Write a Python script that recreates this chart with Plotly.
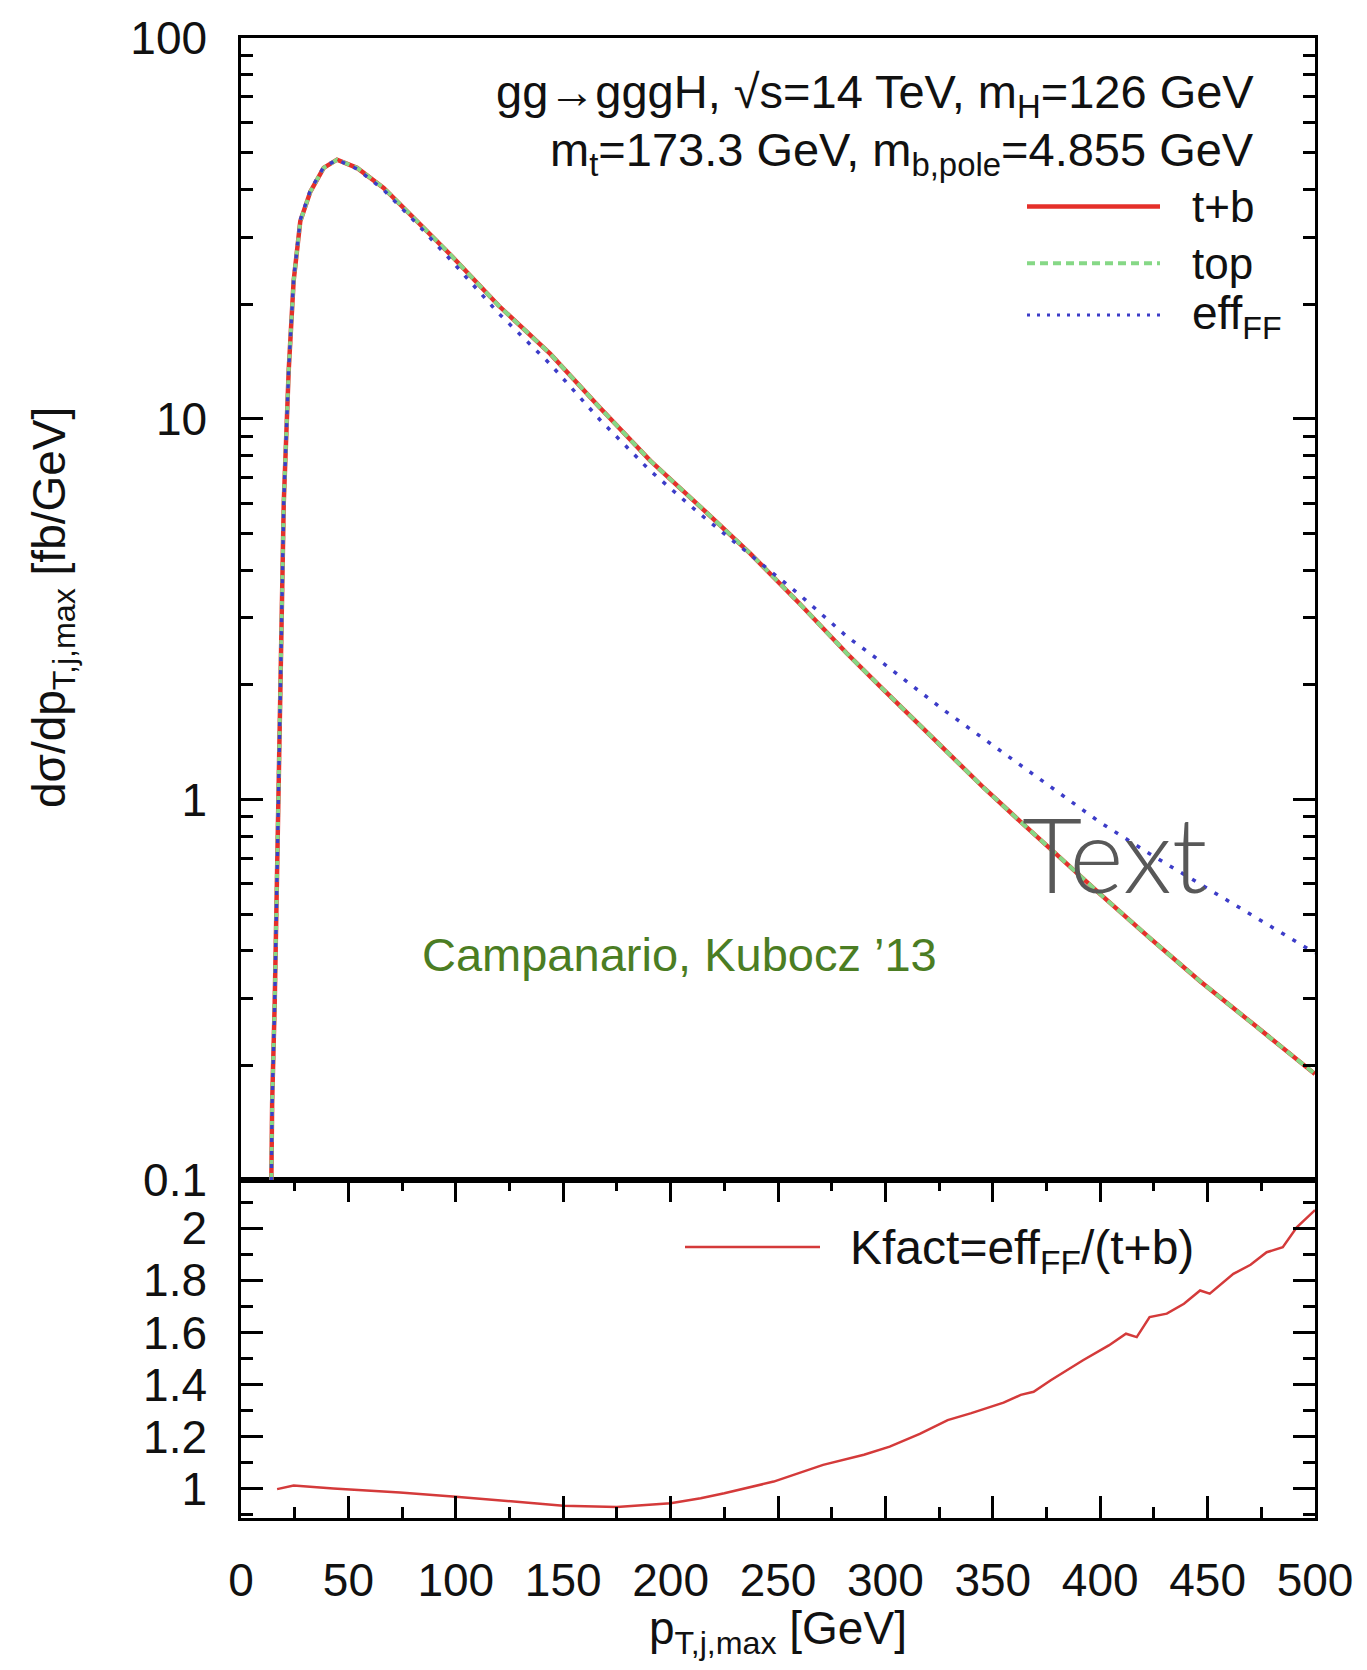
import plotly.graph_objects as go

# ---- data ----
pt_top = [14.0, 14.5, 15.7, 16.8, 18.3, 19.1, 19.9, 22.2, 24.5, 27.6,
          32.3, 38.5, 44.7, 54, 66.4, 82, 97.4, 120, 144, 167,
          190.5, 214, 237, 260, 282, 298, 327, 346, 363, 380,
          400, 423, 446.5, 472, 500]
tb = [0.085, 0.16, 0.293, 0.656, 1.47, 3.27, 6.0, 13.4, 23.0, 33.0,
      39.5, 45.6, 47.9, 45.6, 40.4, 33.0, 27.0, 19.8, 14.8, 10.7,
      7.76, 5.86, 4.43, 3.27, 2.42, 1.97, 1.36, 1.07, 0.873, 0.713,
      0.564, 0.433, 0.333, 0.255, 0.19]
top = [0.085, 0.16, 0.293, 0.656, 1.47, 3.27, 6.0, 13.4, 23.0, 33.0,
       39.5, 45.6, 47.9, 45.6, 40.4, 33.0, 27.0, 19.8, 14.8, 10.7,
       7.76, 5.86, 4.43, 3.27, 2.42, 1.97, 1.36, 1.07, 0.873, 0.713,
       0.564, 0.433, 0.333, 0.255, 0.19]
eff_ff = [0.085, 0.16, 0.293, 0.656, 1.47, 3.27, 6.0, 13.5, 23.2, 33.3,
          39.8, 45.8, 47.9, 45.3, 39.9, 32.5, 26.2, 18.9, 13.9, 9.95,
          7.3, 5.6, 4.4, 3.45, 2.68, 2.30, 1.72, 1.44, 1.23, 1.05,
          0.87, 0.72, 0.60, 0.49, 0.395]

pt_k = [16.8, 24.5, 43, 74, 100, 128, 150, 175, 200, 214,
        225, 248, 271, 290, 302, 316, 329, 340, 349, 355,
        363, 369, 377, 392, 404, 412, 417, 423, 431, 439,
        446.5, 451, 462, 470, 477.5, 485, 491.5, 497, 500]
kfact = [0.998, 1.012, 1.0, 0.985, 0.969, 0.95, 0.934, 0.929, 0.944, 0.963,
         0.982, 1.027, 1.091, 1.13, 1.161, 1.21, 1.263, 1.29, 1.314, 1.33,
         1.36, 1.372, 1.416, 1.493, 1.55, 1.595, 1.582, 1.659, 1.672, 1.71,
         1.761, 1.749, 1.825, 1.86, 1.908, 1.927, 2.004, 2.049, 2.07]

x_ticks = [0, 50, 100, 150, 200, 250, 300, 350, 400, 450, 500]

# ---- style ----
FONT = "Liberation Sans, Arial, Helvetica, sans-serif"
RED = "#e5302a"
GREEN = "#86d886"
BLUE = "#3c3cc8"
W, H = 1367, 1670
L, R, T, B = 241, 52, 33, 152
PW, PH = W - L - R, H - T - B
split = (1518 - 1179) / PH


def px(x):
    return (x - L) / PW


def py(y):
    return (H - B - y) / PH


fig = go.Figure()
fig.add_trace(go.Scatter(x=pt_top, y=tb, mode="lines", xaxis="x2", yaxis="y2",
                         line=dict(color=RED, width=4.5), name="t+b", showlegend=False))
fig.add_trace(go.Scatter(x=pt_top, y=top, mode="lines", xaxis="x2", yaxis="y2",
                         line=dict(color=GREEN, width=4, dash="8px,5px"), name="top", showlegend=False))
fig.add_trace(go.Scatter(x=pt_top, y=eff_ff, mode="lines", xaxis="x2", yaxis="y2",
                         line=dict(color=BLUE, width=3.5, dash="4px,9px"), name="effFF", showlegend=False))
fig.add_trace(go.Scatter(x=pt_k, y=kfact, mode="lines", xaxis="x", yaxis="y",
                         line=dict(color="#d43a3a", width=2.5), name="Kfact", showlegend=False))

axis_common = dict(showline=True, linecolor="black", linewidth=2.5, mirror="allticks",
                   ticks="inside", tickcolor="black", tickwidth=2.5, ticklen=22,
                   showgrid=False, zeroline=False,
                   tickfont=dict(family=FONT, size=46, color="#111"))

fig.update_layout(
    width=W, height=H, margin=dict(l=L, r=R, t=T, b=B),
    paper_bgcolor="white", plot_bgcolor="white",
    xaxis=dict(axis_common, domain=[0, 1], anchor="y", range=[0, 500],
               tickvals=x_ticks, ticklabelstandoff=20,
               minor=dict(ticks="inside", ticklen=11, tickwidth=2.5, tickcolor="black", dtick=25, tick0=0)),
    xaxis2=dict(showline=True, linecolor="black", linewidth=2.5, mirror=True, ticks="",
                showticklabels=False, showgrid=False, zeroline=False,
                domain=[0, 1], anchor="y2", range=[0, 500], matches="x"),
    yaxis=dict(axis_common, domain=[0, split], anchor="x", range=[0.887, 2.185],
               dtick=0.2, tick0=1, ticklabelstandoff=22,
               minor=dict(ticks="inside", ticklen=12, tickwidth=2.5, tickcolor="black", dtick=0.1, tick0=1)),
    yaxis2=dict(axis_common, domain=[split, 1], anchor="x2", type="log", range=[-1, 2],
                tickvals=[0.1, 1, 10, 100], ticktext=["0.1", "1", "10", "100"], ticklabelstandoff=22,
                minor=dict(ticks="inside", ticklen=12, tickwidth=2.5, tickcolor="black", dtick="D1")),
)

TXT = dict(family=FONT, size=44, color="#111")
HDR = dict(family=FONT, size=47, color="#111")
ann = []
ann.append(dict(x=px(1256), y=py(90), xref="paper", yref="paper", xanchor="right", yanchor="middle",
                text="gg→gggH, √s=14 TeV, m<sub>H</sub>=126 GeV", showarrow=False, font=HDR))
ann.append(dict(x=px(1256), y=py(148), xref="paper", yref="paper", xanchor="right", yanchor="middle",
                text="m<sub>t</sub>=173.3 GeV, m<sub>b,pole</sub>=4.855 GeV", showarrow=False, font=HDR))
ann.append(dict(x=px(1190), y=py(202), xref="paper", yref="paper", xanchor="left", yanchor="middle",
                text="t+b", showarrow=False, font=TXT))
ann.append(dict(x=px(1190), y=py(259), xref="paper", yref="paper", xanchor="left", yanchor="middle",
                text="top", showarrow=False, font=TXT))
ann.append(dict(x=px(1190), y=py(312), xref="paper", yref="paper", xanchor="left", yanchor="middle",
                text="eff<sub>FF</sub>", showarrow=False, font=dict(family=FONT, size=46, color="#111")))
ann.append(dict(x=px(848), y=py(1250), xref="paper", yref="paper", xanchor="left", yanchor="middle",
                text="Kfact=eff<sub>FF</sub>/(t+b)", showarrow=False,
                font=dict(family=FONT, size=48, color="#111")))
ann.append(dict(x=px(679), y=py(953), xref="paper", yref="paper", xanchor="center", yanchor="middle",
                text="Campanario, Kubocz ’13", showarrow=False,
                font=dict(family=FONT, size=47, color="#4b7d23")))
ann.append(dict(x=px(1114), y=py(850), xref="paper", yref="paper", xanchor="center", yanchor="middle",
                text="Text", showarrow=False,
                font=dict(family="Lato, Open Sans, sans-serif", size=104, color="#585858", weight=300)))
ann.append(dict(x=px(52), y=py(605), xref="paper", yref="paper", xanchor="center", yanchor="middle",
                text="dσ/dp<sub>T,j,max</sub> [fb/GeV]", textangle=-90, showarrow=False,
                font=dict(family=FONT, size=46, color="#111")))
ann.append(dict(x=px(778), y=py(1632), xref="paper", yref="paper", xanchor="center", yanchor="middle",
                text="p<sub>T,j,max</sub> [GeV]", showarrow=False,
                font=dict(family=FONT, size=46, color="#111")))
fig.update_layout(annotations=ann)

shapes = [
    dict(type="line", xref="paper", yref="paper", x0=px(1027), x1=px(1160), y0=py(202), y1=py(202),
         line=dict(color=RED, width=4.5)),
    dict(type="line", xref="paper", yref="paper", x0=px(1027), x1=px(1160), y0=py(259), y1=py(259),
         line=dict(color=GREEN, width=4, dash="8px,5px")),
    dict(type="line", xref="paper", yref="paper", x0=px(1027), x1=px(1160), y0=py(311), y1=py(311),
         line=dict(color=BLUE, width=3, dash="3px,7px")),
    dict(type="line", xref="paper", yref="paper", x0=px(685), x1=px(820), y0=py(1246), y1=py(1246),
         line=dict(color="#d43a3a", width=2.5)),
]
fig.update_layout(shapes=shapes)

fig.write_html("out.html")
